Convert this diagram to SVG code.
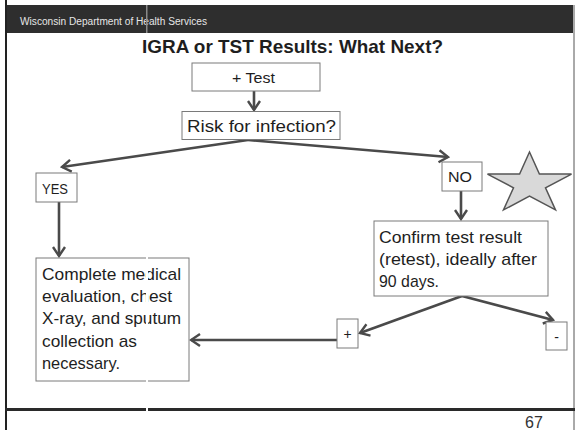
<svg xmlns="http://www.w3.org/2000/svg" width="576" height="430" viewBox="0 0 576 430">
<defs>
<style>
.box{fill:#fff;stroke:#7a7a7a;stroke-width:1}
.t{font-family:"Liberation Sans",Arial,sans-serif;fill:#1e1e1e}
.c{fill:none;stroke:#4a4a4a;stroke-width:2.6}
</style>
<marker id="ah" markerUnits="userSpaceOnUse" viewBox="-12 -8 14 16" markerWidth="14" markerHeight="16" refX="0" refY="0" orient="auto">
<path d="M-9,-6 L0,0 L-9,6" fill="none" stroke="#4a4a4a" stroke-width="2.4" stroke-linejoin="miter"/>
</marker>
</defs>
<rect x="0" y="0" width="576" height="430" fill="#fff"/>
<rect x="5" y="5" width="568" height="28" fill="#2e2e2e"/>
<line x1="6" y1="0" x2="6" y2="430" stroke="#222" stroke-width="2"/>
<line x1="574" y1="5" x2="574" y2="430" stroke="#555" stroke-width="1"/>
<line x1="5" y1="409.5" x2="575" y2="409.5" stroke="#2a2a2a" stroke-width="3"/>
<text class="t" x="20" y="24.5" font-size="10" style="fill:#e6e6e6" textLength="187" lengthAdjust="spacingAndGlyphs">Wisconsin Department of Health Services</text>
<text class="t" x="142" y="53" font-size="19" font-weight="bold" textLength="301" lengthAdjust="spacingAndGlyphs">IGRA or TST Results: What Next?</text>
<text class="t" x="525" y="428" font-size="16" style="fill:#333">67</text>

<g id="connectors">
<line class="c" x1="254" y1="91" x2="254" y2="110" marker-end="url(#ah)"/>
<polyline class="c" points="248,140 62,167" marker-end="url(#ah)"/>
<polyline class="c" points="248,140 448,157" marker-end="url(#ah)"/>
<line class="c" x1="59" y1="202" x2="59" y2="256" marker-end="url(#ah)"/>
<line class="c" x1="461" y1="191" x2="461" y2="219" marker-end="url(#ah)"/>
<polyline class="c" points="462,296 360,333" marker-end="url(#ah)"/>
<polyline class="c" points="462,296 553,320" marker-end="url(#ah)"/>
<line class="c" x1="337" y1="340" x2="191" y2="340" marker-end="url(#ah)"/>
</g>

<g id="test">
<rect class="box" x="192" y="63" width="128" height="28"/>
<text class="t" x="232" y="83" font-size="15.5" textLength="43" lengthAdjust="spacingAndGlyphs">+ Test</text>
</g>
<g id="risk">
<rect class="box" x="182" y="111.5" width="158" height="28"/>
<text class="t" x="187" y="132" font-size="16" textLength="149" lengthAdjust="spacingAndGlyphs">Risk for infection?</text>
</g>
<g id="yes">
<rect class="box" x="36" y="173" width="41" height="29"/>
<text class="t" x="42" y="194" font-size="15" textLength="26" lengthAdjust="spacingAndGlyphs">YES</text>
</g>
<g id="no">
<rect class="box" x="442" y="162" width="40" height="29"/>
<text class="t" x="448" y="182" font-size="15" textLength="24" lengthAdjust="spacingAndGlyphs">NO</text>
</g>
<g id="star">
<polygon points="529.5,152 539.4,174.1 571.5,174.1 545.5,187.8 555.5,209.9 529.5,196.2 503.5,209.9 513.5,187.8 487.5,174.1 519.6,174.1" fill="#d9d9d9" stroke="#555" stroke-width="1.5" stroke-linejoin="miter"/>
</g>
<g id="medical">
<rect class="box" x="36" y="258" width="153" height="123"/>
<text class="t" font-size="17">
<tspan x="42" y="280" textLength="139" lengthAdjust="spacingAndGlyphs">Complete medical</tspan>
<tspan x="42" y="302" textLength="130" lengthAdjust="spacingAndGlyphs">evaluation, chest</tspan>
<tspan x="42" y="324" textLength="139" lengthAdjust="spacingAndGlyphs">X-ray, and sputum</tspan>
<tspan x="42" y="347" textLength="95" lengthAdjust="spacingAndGlyphs">collection as</tspan>
<tspan x="42" y="369" textLength="78" lengthAdjust="spacingAndGlyphs">necessary.</tspan>
</text>
</g>
<g id="confirm">
<rect class="box" x="374" y="221" width="174" height="75"/>
<text class="t" font-size="17">
<tspan x="379" y="243" textLength="143" lengthAdjust="spacingAndGlyphs">Confirm test result</tspan>
<tspan x="379" y="265" textLength="158" lengthAdjust="spacingAndGlyphs">(retest), ideally after</tspan>
<tspan x="379" y="287" textLength="60" lengthAdjust="spacingAndGlyphs">90 days.</tspan>
</text>
</g>
<g id="plus">
<rect class="box" x="337" y="319" width="21" height="29"/>
<text class="t" x="347.5" y="339" font-size="14" text-anchor="middle">+</text>
</g>
<g id="minus">
<rect class="box" x="546" y="322" width="21" height="28"/>
<text class="t" x="556.5" y="342" font-size="14" text-anchor="middle">-</text>
</g>
<rect x="146" y="5" width="1.5" height="28" fill="#8a8a8a"/>
<rect x="146" y="256" width="2" height="127" fill="#fff"/>
<rect x="146" y="406" width="2" height="7" fill="#fff"/>
</svg>
